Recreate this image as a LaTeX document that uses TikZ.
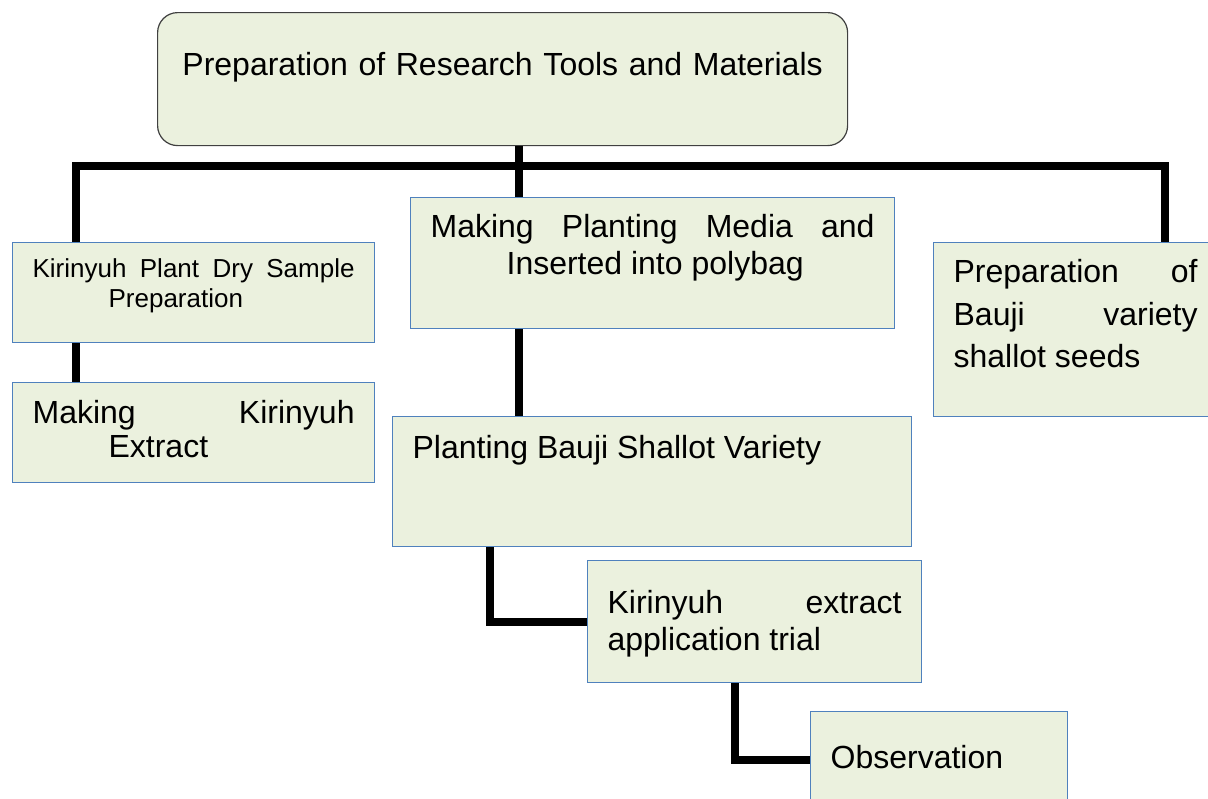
\documentclass[tikz,border=0pt]{standalone}
\usepackage{fontspec}
\setmainfont{Liberation Sans}
\definecolor{verdeclaro}{RGB}{235,241,222}
\definecolor{azulborda}{RGB}{79,129,189}
\definecolor{cinzaborda}{RGB}{64,64,64}

\begin{document}
\begin{tikzpicture}[x=0.5pt, y=-0.5pt,
    caixa/.style={draw=azulborda, fill=verdeclaro, line width=0.6pt, anchor=north west,
      inner xsep=10pt, inner ysep=0pt, align=justify, font=\fontsize{16}{18.5}\selectfont},
    linha/.style={line width=4pt, black}]
    % Area da figura
    \useasboundingbox (0,0) rectangle (1208,798);
    \clip (0,0) rectangle (1208,798);

    % Caixa principal
    \node[caixa, draw=cinzaborda, rounded corners=10pt, align=center, text width=325pt,
      text height=31.5pt, text depth=35pt] (ferramentas) at (157,12)
      {Preparation of Research Tools and Materials};

    % Ramo esquerdo
    \node[caixa, text width=161pt, text height=17.5pt, text depth=32.5pt,
      font=\fontsize{13}{15}\selectfont] (amostra) at (12,242)
      {Kirinyuh\hfill Plant\hfill Dry\hfill Sample\\\hspace*{38pt}Preparation};
    \node[caixa, text width=161pt, text height=20.5pt, text depth=29.5pt,
      font=\fontsize{16}{17}\selectfont] (extrato) at (12,382)
      {Making\hfill Kirinyuh\\\hspace*{38pt}Extract};

    % Ramo central
    \node[caixa, text width=222pt, text height=20pt, text depth=45.5pt] (midia) at (410,197)
      {Making\hfill Planting\hfill Media\hfill and\\\hspace*{38pt}Inserted into polybag};
    \node[caixa, text width=239.5pt, text height=21pt, text depth=44pt] (plantio) at (392,416)
      {Planting Bauji Shallot Variety};
    \node[caixa, text width=147pt, text height=26.5pt, text depth=34.5pt] (aplicacao) at (587,560)
      {Kirinyuh\hfill extract\\application trial};
    \node[caixa, text width=108.5pt, text height=28.5pt, text depth=19.5pt] (observacao) at (810,711)
      {Observation};

    % Ramo direito
    \node[caixa, text width=122pt, text height=20pt, text depth=67pt,
      font=\fontsize{16}{21.25}\selectfont] (sementes) at (933,242)
      {Preparation\hfill of\\Bauji\hfill variety\\shallot seeds};

    % Pontos das ligacoes
    \coordinate (eixo) at (519,166);
    \coordinate (esq) at (76,166);
    \coordinate (dir) at (1165,166);
    \coordinate (cotoveloA) at (490,623);
    \coordinate (cotoveloB) at (735,759);

    % Ligacoes
    \draw[linha] (ferramentas.south -| eixo) -- (midia.north -| eixo);
    \draw[linha] (amostra.north -| esq) -- (esq) -- (dir) -- (sementes.north -| dir);
    \draw[linha] (amostra.south -| esq) -- (extrato.north -| esq);
    \draw[linha] (midia.south -| eixo) -- (plantio.north -| eixo);
    \draw[linha] (plantio.south -| cotoveloA) |- (aplicacao.west);
    \draw[linha] (aplicacao.south -| cotoveloB) |- (observacao.west);
\end{tikzpicture}
\end{document}
